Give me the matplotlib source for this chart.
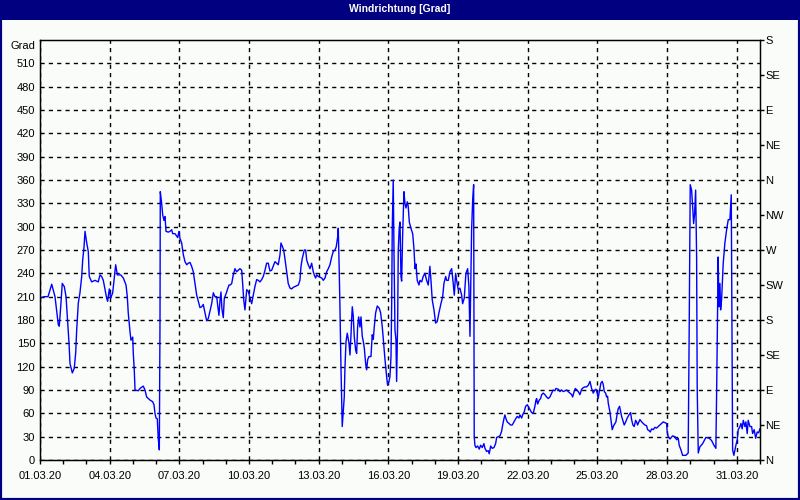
import matplotlib
matplotlib.use('Agg')
import matplotlib.pyplot as plt
import matplotlib.dates as mdates
import matplotlib.transforms as mtransforms
from matplotlib.patches import Rectangle
import pandas as pd

plt.rcParams['font.family'] = ['Liberation Sans', 'DejaVu Sans']
plt.rcParams['font.size'] = 8

# hours since 01.03.20 00:00
hours = [
    0.0, 4.1, 8.3, 12.1, 15.5, 17.3, 18.9, 19.9, 21.4, 23.0,
    25.1, 26.9, 28.2, 30.0, 31.0, 33.4, 35.4, 36.9, 37.9, 39.6,
    41.3, 43.1, 44.1, 45.5, 46.5, 48.3, 49.9, 50.9, 53.4, 56.8,
    60.2, 62.0, 63.7, 65.4, 67.2, 68.9, 69.9, 71.6, 73.0, 75.1,
    76.5, 78.2, 79.9, 83.4, 86.1, 88.9, 90.2, 91.2, 93.0, 94.0,
    95.8, 96.4, 97.4, 98.2, 101.6, 103.3, 106.7, 108.5, 110.2, 113.7,
    116.4, 117.8, 118.8, 119.9, 121.2, 122.2, 123.3, 124.0, 124.3, 125.7,
    126.8, 128.1, 129.2, 130.2, 132.6, 134.3, 136.1, 137.1, 139.5, 142.3,
    143.6, 144.6, 146.4, 148.1, 149.8, 151.6, 153.2, 155.0, 156.7, 158.4,
    160.1, 161.9, 163.6, 165.3, 167.1, 168.7, 170.5, 172.2, 173.9, 175.6,
    177.4, 179.1, 180.8, 182.6, 183.6, 184.9, 186.0, 187.0, 188.0, 189.4,
    190.4, 191.1, 192.9, 193.9, 195.3, 196.6, 198.1, 199.7, 201.5, 203.2,
    204.9, 206.6, 208.4, 209.4, 210.5, 211.8, 213.6, 215.2, 217.0, 218.7,
    219.8, 220.8, 222.1, 223.9, 225.5, 227.3, 229.1, 230.7, 232.5, 234.2,
    235.9, 237.6, 239.4, 241.0, 242.8, 244.6, 246.2, 248.0, 249.0, 250.3,
    251.8, 253.1, 254.9, 256.5, 258.3, 260.1, 261.7, 263.5, 265.2, 266.9,
    268.6, 269.7, 271.0, 273.1, 274.5, 275.6, 277.2, 279.0, 280.7, 282.4,
    283.4, 284.8, 285.9, 287.5, 289.3, 291.1, 292.7, 294.5, 296.2, 297.9,
    299.6, 301.4, 303.0, 304.8, 306.1, 307.6, 308.2, 309.2, 310.0, 311.0,
    311.7, 312.3, 313.4, 314.4, 315.1, 316.2, 317.5, 319.3, 320.3, 321.3,
    322.0, 322.7, 323.7, 324.7, 326.2, 327.2, 328.2, 329.3, 330.6, 331.7,
    333.0, 334.0, 335.1, 336.5, 337.5, 338.6, 339.9, 342.0, 343.3, 344.4,
    345.4, 346.8, 348.5, 350.6, 352.0, 353.7, 355.1, 356.5, 358.2, 359.2,
    360.6, 361.6, 362.7, 363.4, 364.0, 365.0, 365.8, 366.8, 367.8, 368.5,
    369.6, 370.2, 371.2, 372.0, 373.0, 373.7, 374.7, 376.1, 377.1, 378.2,
    379.5, 380.5, 381.6, 383.3, 385.1, 386.4, 387.5, 388.5, 389.8, 391.6,
    392.6, 394.4, 396.0, 397.8, 399.5, 401.2, 402.9, 404.0, 405.3, 407.1,
    408.8, 410.5, 412.2, 414.3, 416.1, 417.4, 419.2, 420.2, 421.9, 423.6,
    425.4, 427.0, 428.1, 429.5, 430.5, 432.2, 433.9, 435.7, 436.7, 438.4,
    440.1, 441.9, 443.2, 444.3, 445.0, 446.0, 447.1, 448.1, 448.4, 448.7,
    449.4, 450.5, 452.2, 453.9, 455.3, 457.0, 458.7, 459.8, 461.5, 463.2,
    464.2, 465.7, 467.3, 469.1, 470.8, 471.9, 473.5, 475.3, 477.0, 478.1,
    479.4, 480.4, 481.5, 482.8, 484.6, 486.3, 488.0, 489.7, 491.5, 493.1,
    494.9, 495.9, 497.7, 498.7, 500.4, 501.8, 503.5, 504.5, 506.3, 508.0,
    509.7, 511.4, 512.5, 513.2, 514.2, 515.9, 517.3, 518.4, 520.0, 521.8,
    523.5, 525.2, 526.9, 528.7, 530.3, 532.1, 533.1, 535.5, 537.3, 539.0,
    540.7, 542.4, 544.2, 545.8, 547.6, 549.4, 550.4, 551.7, 553.1, 554.8,
    556.2, 557.9, 559.7, 561.3, 563.1, 564.8, 566.5, 568.3, 570.0, 571.7,
    573.4, 574.5, 575.8, 576.8, 577.9, 578.6, 579.6, 581.0, 582.0, 583.1,
    584.5, 585.5, 586.5, 587.2, 588.9, 590.0, 591.3, 592.7, 594.1, 595.1,
    596.5, 597.5, 598.9, 600.0, 601.0, 602.7, 603.7, 605.2, 606.8, 608.6,
    610.3, 611.3, 612.7, 614.0, 615.5, 616.5, 617.5, 618.9, 619.9, 621.7,
    623.3, 625.1, 626.8, 627.9, 629.2, 630.6, 632.0, 633.7, 635.4, 637.1,
    638.8, 640.6, 642.3, 644.0, 645.8, 647.5, 648.1, 649.2, 651.0, 653.7,
    656.1, 657.8, 659.5, 660.5, 662.3, 664.0, 667.4, 669.8, 670.9, 671.9,
    673.3, 674.4, 675.4, 676.4, 677.5, 678.5, 679.1, 680.2, 681.9, 684.7,
    688.1, 691.5, 694.0, 696.4, 698.4, 699.2, 700.8, 701.5, 702.6, 703.3,
    704.3, 706.0, 707.7, 709.5, 711.2, 712.9, 713.6, 714.3, 715.0, 715.7,
    717.0, 719.1, 720.5, 721.5, 723.3, 724.3, 725.6, 726.7, 728.4, 729.4,
    730.8, 731.8, 733.6, 735.3, 736.4, 738.0, 739.5, 741.1, 742.6, 743.9,
]

grad = [
    208, 210, 210, 226, 210, 191, 174, 172, 197, 227,
    223, 210, 184, 150, 124, 112, 118, 138, 167, 202,
    215, 236, 257, 274, 294, 279, 268, 236, 229, 231,
    229, 238, 236, 231, 219, 208, 204, 220, 208, 215,
    231, 251, 238, 238, 234, 225, 210, 189, 165, 154,
    158, 137, 116, 90, 89, 92, 95, 90, 81, 77,
    75, 71, 60, 54, 53, 28, 13, 180, 345, 330,
    315, 308, 313, 294, 293, 294, 296, 291, 291, 286,
    294, 285, 279, 264, 255, 251, 253, 254, 249, 242,
    227, 212, 204, 196, 197, 200, 189, 179, 182, 191,
    201, 215, 210, 210, 199, 186, 205, 216, 194, 183,
    207, 210, 216, 220, 225, 225, 227, 238, 246, 242,
    244, 246, 244, 227, 206, 193, 219, 217, 208, 201,
    208, 214, 223, 232, 231, 229, 232, 236, 244, 253,
    253, 243, 244, 249, 255, 253, 251, 264, 279, 275,
    270, 259, 242, 227, 221, 220, 222, 223, 224, 225,
    231, 249, 259, 270, 270, 257, 251, 246, 253, 242,
    238, 234, 238, 236, 235, 234, 231, 234, 242, 246,
    251, 261, 268, 270, 274, 287, 298, 244, 193, 120,
    81, 43, 64, 81, 118, 152, 163, 150, 135, 159,
    180, 197, 185, 159, 141, 137, 171, 184, 171, 184,
    159, 153, 144, 124, 116, 129, 133, 133, 161, 155,
    171, 189, 198, 195, 189, 171, 150, 129, 107, 96,
    101, 107, 133, 201, 298, 360, 266, 167, 155, 101,
    180, 270, 298, 306, 236, 230, 288, 345, 330, 324,
    332, 326, 306, 298, 291, 272, 246, 252, 231, 225,
    231, 229, 236, 240, 231, 225, 249, 231, 206, 193,
    176, 178, 189, 201, 210, 227, 236, 231, 231, 242,
    246, 227, 212, 240, 231, 219, 221, 212, 201, 208,
    240, 246, 223, 159, 219, 296, 334, 354, 189, 30,
    19, 16, 18, 14, 19, 16, 21, 15, 11, 12,
    8, 18, 15, 16, 21, 29, 30, 31, 37, 45,
    53, 58, 53, 49, 47, 45, 45, 49, 53, 56,
    54, 58, 54, 58, 62, 69, 71, 69, 65, 61,
    60, 69, 77, 79, 72, 77, 79, 84, 86, 84,
    81, 79, 81, 86, 90, 89, 92, 91, 88, 90,
    88, 89, 90, 88, 86, 84, 81, 87, 92, 90,
    88, 84, 91, 93, 94, 94, 96, 101, 92, 86,
    90, 91, 86, 79, 88, 92, 99, 101, 97, 88,
    86, 81, 82, 73, 62, 51, 39, 44, 47, 49,
    60, 66, 69, 62, 56, 49, 45, 49, 54, 58,
    61, 52, 45, 43, 51, 49, 45, 49, 52, 49,
    47, 45, 44, 39, 38, 36, 40, 39, 42, 41,
    43, 45, 47, 49, 48, 47, 36, 30, 27, 31,
    30, 26, 28, 19, 13, 6, 6, 9, 180, 354,
    347, 326, 304, 316, 347, 261, 94, 9, 17, 21,
    29, 28, 25, 19, 15, 88, 261, 197, 227, 193,
    206, 253, 279, 296, 309, 309, 324, 341, 180, 13,
    6, 19, 26, 39, 43, 47, 40, 51, 43, 49,
    34, 51, 43, 43, 34, 39, 28, 36, 35, 40,
]

gradTicks = list(range(0, 511, 30))
compassTicks = list(range(0, 541, 45))
compassLabels = ['N', 'NE', 'E', 'SE', 'S', 'SW', 'W', 'NW',
                 'N', 'NE', 'E', 'SE', 'S']
dateTicks = pd.date_range('2020-03-01', '2020-03-31', freq='3D')

bgColor = '#f9fcf9'
frameColor = '#000080'

fig = plt.figure(figsize=(8, 5), dpi=100, facecolor=bgColor)
ax = fig.add_axes([0.05, 0.08, 0.9, 0.84], facecolor=bgColor)

times = pd.Timestamp('2020-03-01') + pd.to_timedelta(hours, unit='h')
ax.plot(times, grad, color='#0000ff', linewidth=1)

ax.set_xlim(pd.Timestamp('2020-03-01'), pd.Timestamp('2020-04-01'))
ax.set_ylim(0, 540)
ax.set_yticks(gradTicks)
ax.tick_params(axis='y', length=0, pad=3.5)

ax.set_xticks(dateTicks)
ax.xaxis.set_minor_locator(mdates.DayLocator())
ax.xaxis.set_major_formatter(mdates.DateFormatter('%d.%m.%y'))
ax.tick_params(axis='x', which='both', direction='out', length=3, width=1, pad=5)

ax.grid(True, which='major', color='black', linestyle=(0, (3, 3)), linewidth=1)
for s in ax.spines.values():
    s.set_color('black')
    s.set_linewidth(1)

trans = mtransforms.blended_transform_factory(ax.transAxes, ax.transData)
ax.text(-0.006, 539, 'Grad', transform=trans, ha='right', va='top')

axR = ax.twinx()
axR.set_ylim(0, 540)
axR.set_yticks(compassTicks)
axR.set_yticklabels(compassLabels)
axR.tick_params(axis='y', direction='out', length=3, width=1, pad=1)

# window frame and title bar
fig.patches.append(Rectangle((0, 480 / 500), 1, 20 / 500, transform=fig.transFigure,
                             facecolor=frameColor, edgecolor='none'))
fig.patches.append(Rectangle((0, 0), 1, 1, transform=fig.transFigure,
                             fill=False, edgecolor=frameColor, linewidth=3))
fig.text(0.5, 1 - 9.5 / 500, 'Windrichtung [Grad]', color='white',
         fontweight='bold', fontsize=7.5, ha='center', va='center')

fig.savefig('out.png', dpi=100, facecolor=bgColor)
